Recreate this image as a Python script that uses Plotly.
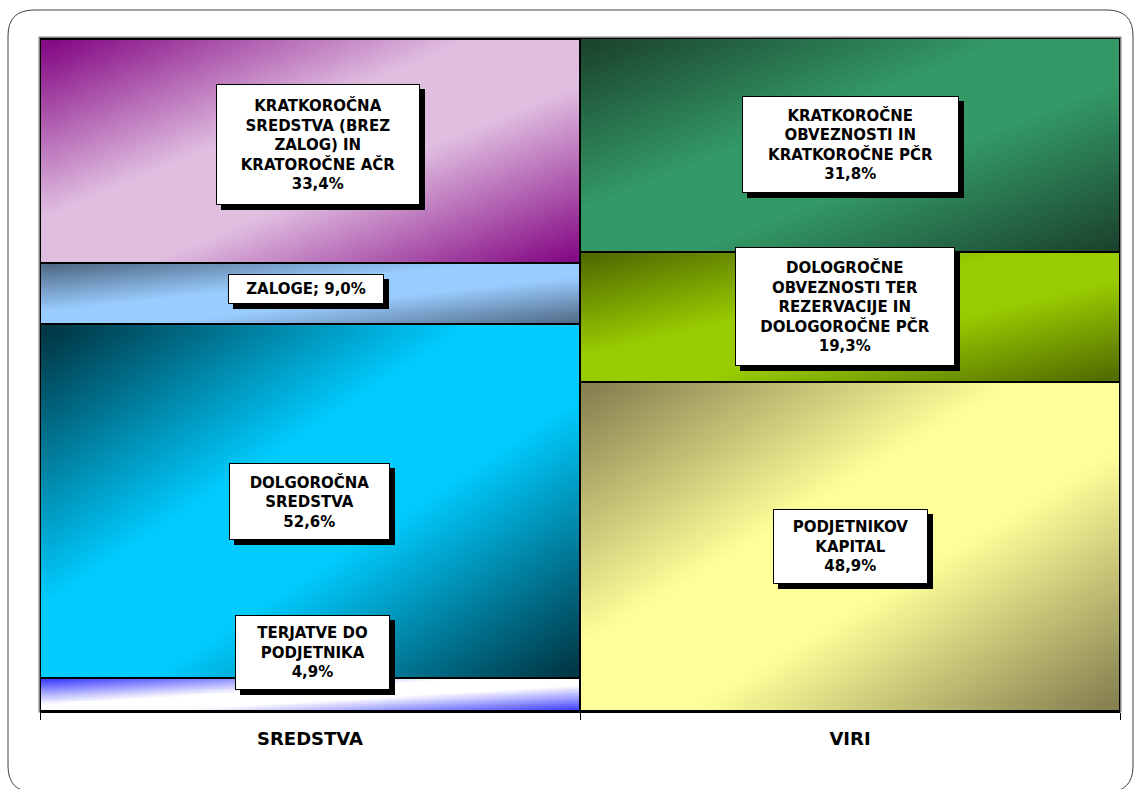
"""Struktura sredstev in virov - 100% naložen stolpčni graf."""

import numpy as np
import plotly.graph_objects as go

CATEGORIES = ["SREDSTVA", "VIRI"]

SREDSTVA_NAMES = [
    "TERJATVE DO<br>PODJETNIKA",
    "DOLGOROČNA<br>SREDSTVA",
    "ZALOGE",
    "KRATKOROČNA<br>SREDSTVA (BREZ<br>ZALOG) IN<br>KRATOROČNE AČR",
]
SREDSTVA_VALUES = [4.9, 52.6, 9.0, 33.4]

VIRI_NAMES = [
    "PODJETNIKOV<br>KAPITAL",
    "DOLOGROČNE<br>OBVEZNOSTI TER<br>REZERVACIJE IN<br>DOLOGOROČNE PČR",
    "KRATKOROČNE<br>OBVEZNOSTI IN<br>KRATKOROČNE PČR",
]
VIRI_VALUES = [48.9, 19.3, 31.8]

# (svetla, temna) barva preliva za vsak segment
SREDSTVA_FILL = [("#FFFFFF", "#3333FF"), ("#00CCFF", "#00303C"),
                 ("#99CCFF", "#4D6680"), ("#E0BEE0", "#800080")]
VIRI_FILL = [("#FFFF99", "#807A4D"), ("#99CC00", "#4D6600"),
             ("#339966", "#1A3F2B")]

# okvirji oznak: (širina, višina, zamik x, zamik y) v pikslih
SREDSTVA_BOX = [(155, 75, 2, 42), (161, 77, -1, 0), (156, 30, -4, 5), (204, 121, 8, 7)]
VIRI_BOX = [(155, 75, 0, 0), (220, 119, -5, 10), (217, 97, 0, 1)]

FONT = "Liberation Sans, Arial, sans-serif"
LABEL_FONT = "DejaVu Sans, Verdana, sans-serif"

N = 24
uu, vv = np.meshgrid((np.arange(N) + 0.5) / N, (np.arange(N) + 0.5) / N)
shade = np.abs(uu - vv)

fig = go.Figure()
annotations = []

groups = [
    (SREDSTVA_NAMES, SREDSTVA_VALUES, SREDSTVA_FILL, SREDSTVA_BOX),
    (VIRI_NAMES, VIRI_VALUES, VIRI_FILL, VIRI_BOX),
]

for xi, (names, values, fills, boxes) in enumerate(groups):
    base = 0.0
    for name, val, (light, dark), (bw, bh, dx, dy) in zip(names, values, fills, boxes):
        fig.add_trace(go.Heatmap(
            x=np.linspace(xi - 0.5, xi + 0.5, N + 1),
            y=np.linspace(base, base + val, N + 1),
            z=shade, zmin=0, zmax=1, zsmooth="best",
            colorscale=[[0, light], [0.2, light], [1, dark]],
            showscale=False, hoverinfo="skip",
        ))
        pct = f"{val:.1f}".replace(".", ",") + "%"
        label = name.replace("<br>", " ")
        fig.add_trace(go.Bar(
            x=[xi], y=[val], width=1, name=label,
            marker=dict(color="rgba(0,0,0,0)", line=dict(color="black", width=2)),
            hovertemplate=f"{label}: {pct}<extra></extra>",
        ))
        text = f"{name}<br>{pct}" if "<br>" in name else f"{name}; {pct}"
        common = dict(
            x=xi, y=base + val / 2, xref="x", yref="y",
            width=bw - 2, height=bh - 2, borderpad=0, borderwidth=1,
            showarrow=False, align="center", valign="middle",
            bordercolor="black",
        )
        # senca okvirja
        annotations.append(dict(common, text=" ", xshift=dx + 5, yshift=dy - 5,
                                bgcolor="black"))
        annotations.append(dict(common, text=text, xshift=dx, yshift=dy,
                                bgcolor="white",
                                font=dict(family=LABEL_FONT, size=15,
                                          weight="bold", color="black")))
        base += val

# zaobljen okvir grafikona (v koordinatah papirja)
L, R, T, B = 40, 1120, 38, 711
def px(x):
    return (x - L) / (R - L)
def py(y):
    return (B - y) / (B - T)
fx0, fx1, fy0, fy1, rad = 8, 1133, 10, 792, 26
frame = (
    f"M {px(fx0 + rad)},{py(fy0)} L {px(fx1 - rad)},{py(fy0)} "
    f"Q {px(fx1)},{py(fy0)} {px(fx1)},{py(fy0 + rad)} "
    f"L {px(fx1)},{py(fy1 - rad)} Q {px(fx1)},{py(fy1)} {px(fx1 - rad)},{py(fy1)} "
    f"L {px(fx0 + rad)},{py(fy1)} Q {px(fx0)},{py(fy1)} {px(fx0)},{py(fy1 - rad)} "
    f"L {px(fx0)},{py(fy0 + rad)} Q {px(fx0)},{py(fy0)} {px(fx0 + rad)},{py(fy0)} Z"
)

fig.update_layout(
    width=1136, height=789,
    barmode="stack",
    showlegend=False,
    paper_bgcolor="white",
    plot_bgcolor="white",
    margin=dict(l=L, r=1136 - R, t=T, b=789 - B),
    font=dict(family=FONT, color="black"),
    xaxis=dict(
        range=[-0.5, 1.5], tickmode="array", tickvals=[0, 1], ticktext=CATEGORIES,
        ticks="", showgrid=False, zeroline=False,
        showline=True, linecolor="black", linewidth=2,
        minor=dict(tickmode="array", tickvals=[-0.5, 0.5, 1.5], ticks="outside",
                   ticklen=7, tickwidth=1, tickcolor="black", showgrid=False),
        tickfont=dict(family=LABEL_FONT, size=18, weight="bold"),
        ticklabelstandoff=10,
        fixedrange=True,
    ),
    yaxis=dict(range=[0, 100], showticklabels=False, showgrid=False,
               zeroline=False, ticks="", fixedrange=True),
    annotations=annotations,
    shapes=[
        dict(type="rect", xref="paper", yref="paper", x0=0, y0=0, x1=1, y1=1,
             line=dict(color="#808080", width=3), layer="below"),
        dict(type="path", xref="paper", yref="paper", path=frame,
             line=dict(color="#404040", width=1), layer="below"),
    ],
)

fig.write_html("out.html", config={"displayModeBar": False},
               post_script="document.body.style.margin='0';")
